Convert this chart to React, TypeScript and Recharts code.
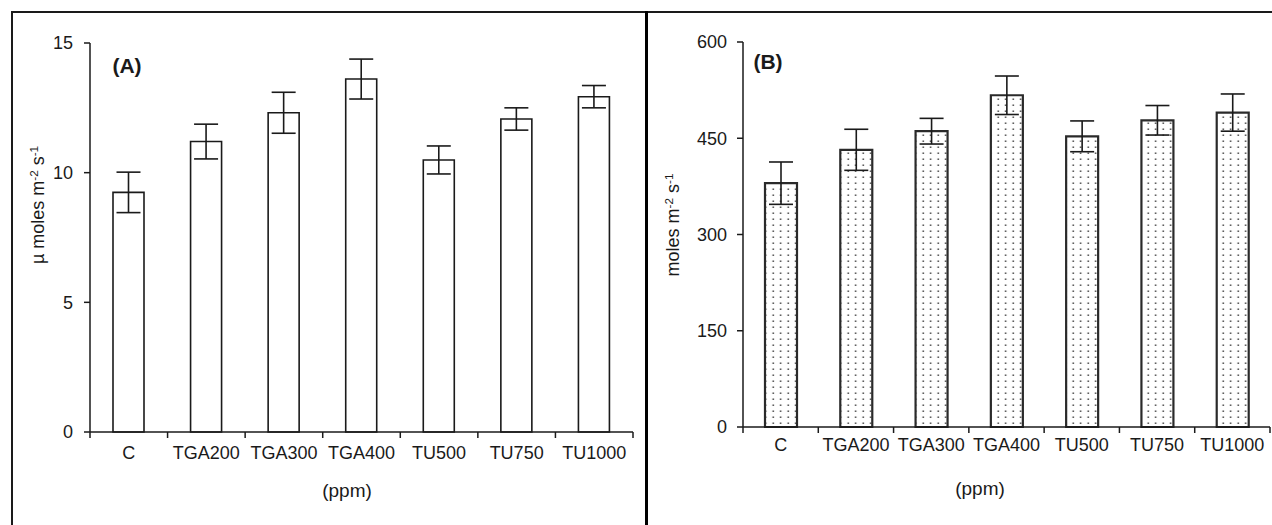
import React from "react";
import { BarChart, Bar, XAxis, YAxis, ErrorBar } from "recharts";

const categories = ["C", "TGA200", "TGA300", "TGA400", "TU500", "TU750", "TU1000"];

// panel A: µ moles m-2 s-1
const valuesA = [9.24, 11.2, 12.31, 13.61, 10.49, 12.07, 12.93];
const errorsA = [0.78, 0.67, 0.79, 0.77, 0.54, 0.43, 0.43];
const ticksA = [0, 5, 10, 15];

// panel B: moles m-2 s-1
const valuesB = [380, 432, 461, 517, 453, 478, 490];
const errorsB = [33, 32, 20, 30, 24, 23, 29];
const ticksB = [0, 150, 300, 450, 600];

const FONT = "'Liberation Sans', Arial, sans-serif";
const INK = "#1a1a1a";

const dataA = categories.map((name, i) => ({ name, v: valuesA[i], err: errorsA[i] }));
const dataB = categories.map((name, i) => ({ name, v: valuesB[i], err: errorsB[i] }));

function CatTick(props: any) {
  const { x, y, payload, index, labelDy, fallbackHalf } = props;
  const half = payload && payload.offset ? payload.offset : fallbackHalf;
  const last = index === categories.length - 1;
  return (
    <g>
      <line x1={x - half} x2={x - half} y1={y} y2={y + 6} stroke={INK} strokeWidth={1.5} />
      {last && <line x1={x + half} x2={x + half} y1={y} y2={y + 6} stroke={INK} strokeWidth={1.5} />}
      <text
        x={x}
        y={y + labelDy}
        textAnchor="middle"
        dominantBaseline="central"
        fontSize={18}
        fontFamily={FONT}
        fill={INK}
      >
        {payload.value}
      </text>
    </g>
  );
}

function AbsText({
  x,
  y,
  size,
  bold,
  rotate,
  children,
}: {
  x: number;
  y: number;
  size: number;
  bold?: boolean;
  rotate?: boolean;
  children: React.ReactNode;
}) {
  return (
    <div
      style={{
        position: "absolute",
        left: x,
        top: y,
        transform: `translate(-50%, -50%)${rotate ? " rotate(-90deg)" : ""}`,
        whiteSpace: "nowrap",
        fontFamily: FONT,
        fontSize: size,
        fontWeight: bold ? 700 : 400,
        lineHeight: 1,
        color: INK,
      }}
    >
      {children}
    </div>
  );
}

const sup = { fontSize: "0.65em", verticalAlign: "0.55em", lineHeight: 0 };

export default function App() {
  return (
    <div style={{ position: "absolute", left: 0, top: 0, width: 1272, height: 525, background: "#fff", overflow: "hidden" }}>
      {/* frame lines */}
      <div style={{ position: "absolute", left: 11, top: 11, width: 1261, height: 2, background: INK }} />
      <div style={{ position: "absolute", left: 11, top: 11, width: 2, height: 514, background: INK }} />
      <div style={{ position: "absolute", left: 645, top: 11, width: 3, height: 514, background: "#000" }} />

      {/* panel A */}
      <div style={{ position: "absolute", left: 0, top: 0 }}>
        <BarChart width={645} height={525} data={dataA} margin={{ top: 43, right: 12, bottom: 33, left: 0 }}>
          <XAxis
            dataKey="name"
            height={60}
            tickLine={false}
            tickSize={0}
            tickMargin={0}
            interval={0}
            axisLine={{ stroke: INK, strokeWidth: 1.5 }}
            tick={(p: any) => <CatTick {...p} labelDy={21} fallbackHalf={38.8} />}
          />
          <YAxis
            width={90}
            domain={[0, 15]}
            ticks={ticksA}
            interval={0}
            tickSize={6}
            tickMargin={11}
            axisLine={{ stroke: INK, strokeWidth: 1.5 }}
            tickLine={{ stroke: INK, strokeWidth: 1.5 }}
            tick={{ fontSize: 18, fontFamily: FONT, fill: INK }}
          />
          <Bar dataKey="v" fill="#fff" stroke={INK} strokeWidth={1.6} barSize={31} isAnimationActive={false}>
            <ErrorBar dataKey="err" width={12} stroke={INK} strokeWidth={1.6} />
          </Bar>
        </BarChart>
      </div>

      {/* panel B */}
      <div style={{ position: "absolute", left: 650, top: 0 }}>
        <BarChart width={622} height={525} data={dataB} margin={{ top: 42, right: 2, bottom: 38, left: 0 }}>
          <defs>
            <pattern id="dots" width={7.5} height={6} patternUnits="userSpaceOnUse">
              <rect width={7.5} height={6} fill="#fff" />
              <rect x={2.5} y={2.5} width={1.4} height={1.4} fill="#222" />
            </pattern>
          </defs>
          <XAxis
            dataKey="name"
            height={60}
            tickLine={false}
            tickSize={0}
            tickMargin={0}
            interval={0}
            axisLine={{ stroke: INK, strokeWidth: 1.5 }}
            tick={(p: any) => <CatTick {...p} labelDy={18} fallbackHalf={37.6} />}
          />
          <YAxis
            width={93}
            domain={[0, 600]}
            ticks={ticksB}
            interval={0}
            tickSize={6}
            tickMargin={10}
            axisLine={{ stroke: INK, strokeWidth: 1.5 }}
            tickLine={{ stroke: INK, strokeWidth: 1.5 }}
            tick={{ fontSize: 18, fontFamily: FONT, fill: INK }}
          />
          <Bar dataKey="v" fill="url(#dots)" stroke="#2a2a2a" strokeWidth={2.2} barSize={32} isAnimationActive={false}>
            <ErrorBar dataKey="err" width={12} stroke={INK} strokeWidth={1.6} />
          </Bar>
        </BarChart>
      </div>

      {/* titles and labels */}
      <AbsText x={127} y={65} size={21} bold>(A)</AbsText>
      <AbsText x={768} y={61} size={21} bold>(B)</AbsText>

      <AbsText x={38} y={205} size={18} rotate>
        µ moles m<span style={sup}>-2</span> s<span style={sup}>-1</span>
      </AbsText>
      <AbsText x={673} y={225} size={18} rotate>
        moles m<span style={sup}>-2</span> s<span style={sup}>-1</span>
      </AbsText>

      <AbsText x={347} y={490} size={19}>(ppm)</AbsText>
      <AbsText x={980} y={488} size={19}>(ppm)</AbsText>
    </div>
  );
}
